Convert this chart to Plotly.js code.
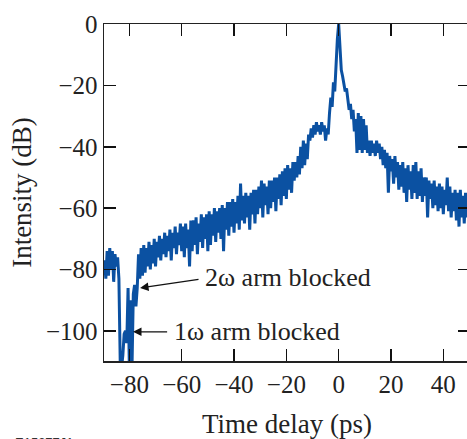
<!DOCTYPE html>
<html>
<head>
<meta charset="utf-8">
<script src="https://cdn.plot.ly/plotly-3.0.1.min.js"></script>
<style>
html,body{margin:0;padding:0;width:467px;height:439px;overflow:hidden;background:#fff;}
#chart{width:475px;height:439px;}
</style>
</head>
<body>
<div id="chart"></div>
<script>
// Time delay axis: first sample and spacing (ps)
const timeStart = -89.5;
const timeStep = 0.5;
// Intensity (dB), one value per 0.5 ps
const intensityDb = [
  -77,-83,-74,-82,-73,-80,-74,-84,-75,-79,
  -76,-83,-110,-112,-108,-101,-100,-104,-86,-112,
  -90,-112,-88,-85,-92,-86,-75,-83,-73,-82,
  -72,-81,-73,-79,-71,-80,-72,-78,-70,-79,
  -71,-76,-69,-77,-70,-75,-68,-76,-69,-74,
  -67,-77,-68,-73,-66,-75,-68,-72,-65,-74,
  -66,-76,-65,-73,-67,-79,-64,-74,-64,-72,
  -63,-75,-65,-71,-62,-73,-63,-70,-62,-74,
  -61,-72,-62,-69,-60,-71,-61,-68,-60,-70,
  -59,-74,-60,-67,-58,-69,-58,-66,-57,-68,
  -58,-65,-56,-67,-52,-64,-56,-65,-55,-63,
  -56,-67,-55,-62,-54,-65,-54,-62,-53,-60,
  -51,-63,-52,-59,-53,-62,-51,-60,-51,-58,
  -50,-61,-50,-57,-49,-59,-48,-56,-47,-57,
  -46,-54,-47,-55,-45,-51,-45,-50,-43,-49,
  -40,-47,-38,-46,-39,-44,-36,-38,-34,-37,
  -33,-36,-32,-35,-33,-36,-32,-35,-33,-38,
  -34,-36,-29,-24,-27,-19,-22,-12,-5,0,
  -9,-15,-17,-19,-22,-21,-25,-28,-26,-31,
  -28,-35,-31,-42,-29,-41,-30,-42,-31,-41,
  -33,-42,-38,-43,-38,-42,-39,-43,-38,-42,
  -39,-44,-40,-46,-41,-47,-42,-55,-43,-48,
  -44,-52,-43,-50,-45,-54,-46,-53,-45,-55,
  -47,-58,-46,-54,-48,-57,-46,-55,-45,-57,
  -48,-56,-47,-58,-50,-56,-50,-63,-51,-57,
  -52,-60,-51,-59,-53,-61,-52,-60,-53,-62,
  -54,-59,-50,-61,-53,-63,-55,-61,-54,-64,
  -55,-66,-54,-63,-56,-65,-55,-63,-57,-62
];
// Annotation labels and the points they mark
const labelTexts = ["2ω arm blocked", "1ω arm blocked"];
const labelX = [-51.9, -63.8];
const labelY = [-82.7, -100.2];
const arrowHeadX = [-75.9, -78.6];
const arrowHeadY = [-86.0, -100.3];
const arrowTailX = [-53.0, -65.0];
const arrowTailY = [-83.1, -100.3];
const xTicks = [-80, -60, -40, -20, 0, 20, 40];
const yTicks = [0, -20, -40, -60, -80, -100];

const serif = "Liberation Serif, Times New Roman, serif";
const trace = {
  type: "scatter", mode: "lines",
  x0: timeStart, dx: timeStep, y: intensityDb,
  line: {color: "#0b51a2", width: 3},
  hoverinfo: "skip"
};
const annotations = [];
for (let i = 0; i < labelTexts.length; i++) {
  annotations.push({
    x: arrowHeadX[i], y: arrowHeadY[i], xref: "x", yref: "y",
    ax: arrowTailX[i], ay: arrowTailY[i], axref: "x", ayref: "y",
    text: "", showarrow: true, arrowhead: 2, arrowsize: 1.3, arrowwidth: 1.3, arrowcolor: "#111"
  });
  annotations.push({
    x: labelX[i], y: labelY[i], xref: "x", yref: "y", xanchor: "left", yanchor: "middle",
    text: labelTexts[i], showarrow: false, font: {family: serif, size: 26, color: "#222"}
  });
}
annotations.push({
  x: -0.249, y: -0.215, xref: "paper", yref: "paper", xanchor: "left", yanchor: "top",
  text: "E15377J1", showarrow: false, font: {family: "Liberation Sans, Arial, sans-serif", size: 13, color: "#333"}
});
const axisCommon = {
  showgrid: false, zeroline: false, showline: true, linecolor: "#222", linewidth: 1.5,
  mirror: "ticks", ticks: "inside", ticklen: 12, tickwidth: 1.5, tickcolor: "#111",
  tickfont: {family: serif, size: 25, color: "#222"}
};
const layout = {
  width: 475, height: 439,
  margin: {l: 104, r: 5, t: 24, b: 78},
  paper_bgcolor: "#fff", plot_bgcolor: "#fff",
  showlegend: false,
  xaxis: Object.assign({}, axisCommon, {
    range: [-89.7, 50.2], tickmode: "array", tickvals: xTicks,
    title: {text: "Time delay (ps)", font: {family: serif, size: 27, color: "#222"}, standoff: 19}
  }),
  yaxis: Object.assign({}, axisCommon, {
    range: [-109.8, 0], tickmode: "array", tickvals: yTicks,
    title: {text: "Intensity (dB)", font: {family: serif, size: 27, color: "#222"}, standoff: 6}
  }),
  annotations: annotations
};
Plotly.newPlot("chart", [trace], layout, {staticPlot: true, displayModeBar: false});
</script>
</body>
</html>
